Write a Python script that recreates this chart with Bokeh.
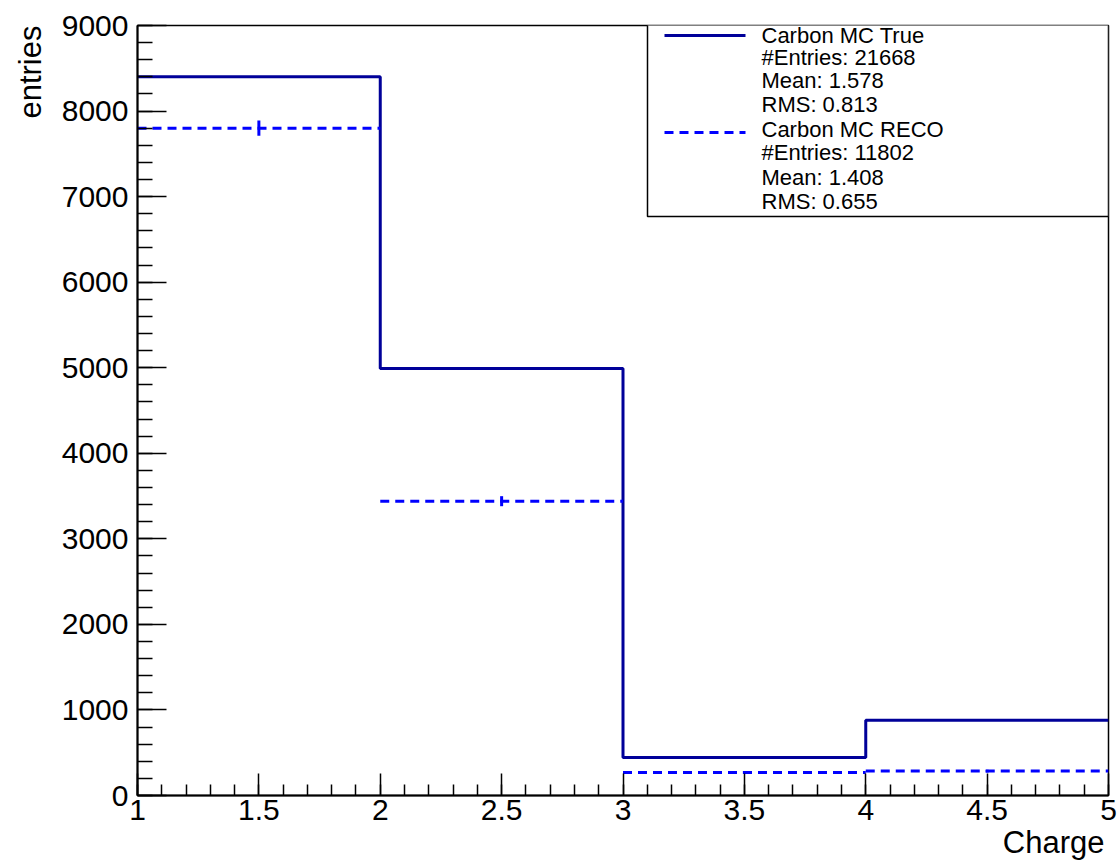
import math
from bokeh.plotting import figure
from bokeh.models import Range1d, FixedTicker, Title
from bokeh.core.properties import value
from bokeh.embed import file_html
from bokeh.resources import INLINE

# ---- data ----
bin_edges = [1, 2, 3, 4, 5]
true_counts = [8400, 4990, 444, 880]
reco_counts = [7800, 3440, 270, 285]

x_ticks = [1, 1.5, 2, 2.5, 3, 3.5, 4, 4.5, 5]
x_tick_labels = ["1", "1.5", "2", "2.5", "3", "3.5", "4", "4.5", "5"]
y_ticks = [0, 1000, 2000, 3000, 4000, 5000, 6000, 7000, 8000, 9000]
y_tick_labels = ["0", "1000", "2000", "3000", "4000", "5000", "6000", "7000", "8000", "9000"]

legend_true = ["Carbon MC True", "#Entries: 21668", "Mean: 1.578", "RMS: 0.813"]
legend_reco = ["Carbon MC RECO", "#Entries: 11802", "Mean: 1.408", "RMS: 0.655"]

TRUE_COLOR = "#000099"
RECO_COLOR = "#0000ff"
FONT = "Liberation Sans"

XMIN, XMAX, YMIN, YMAX = 1, 5, 0, 9000
# frame pixel geometry (picture coords)
FL, FR, FT, FB = 137, 1108, 25, 795


def dx(px):
    return XMIN + (px - FL) / (FR - FL) * (XMAX - XMIN)


def dy(py):
    return YMIN + (FB - py) / (FB - FT) * (YMAX - YMIN)


p = figure(frame_width=FR - FL, frame_height=FB - FT,
           output_backend="svg", toolbar_location=None,
           x_range=Range1d(XMIN, XMAX), y_range=Range1d(YMIN, YMAX),
           min_border_left=FL, min_border_right=9, min_border_top=FT,
           min_border_bottom=865 - FB)
p.background_fill_color = "white"
p.border_fill_color = "white"
p.outline_line_color = "black"
p.outline_line_width = 1.5
p.xgrid.visible = False
p.ygrid.visible = False

# axes
minor_x = [round(1 + 0.1 * i, 2) for i in range(41)]
minor_y = [200 * i for i in range(46)]
p.xaxis.ticker = FixedTicker(ticks=x_ticks, minor_ticks=minor_x)
p.yaxis.ticker = FixedTicker(ticks=y_ticks, minor_ticks=minor_y)
p.xaxis.major_label_overrides = {t: l for t, l in zip(x_ticks, x_tick_labels)}
p.yaxis.major_label_overrides = {t: l for t, l in zip(y_ticks, y_tick_labels)}
for ax in (p.xaxis[0], p.yaxis[0]):
    ax.axis_line_color = "black"
    ax.axis_line_width = 2
    ax.major_tick_line_color = "black"
    ax.minor_tick_line_color = "black"
    ax.major_tick_line_width = 1.5
    ax.minor_tick_line_width = 1.5
    ax.major_tick_out = 0
    ax.minor_tick_out = 0
    ax.major_label_text_font = FONT
    ax.major_label_text_font_size = "30px"
    ax.major_label_text_color = "black"
p.xaxis.major_tick_in = 22
p.xaxis.minor_tick_in = 11
p.yaxis.major_tick_in = 29
p.yaxis.minor_tick_in = 15
p.xaxis.major_label_standoff = 4
p.yaxis.major_label_standoff = 9

# axis titles (right / top aligned as in ROOT)
p.add_layout(Title(text="Charge", align="right", text_font=FONT,
                   text_font_size="31px", text_font_style="normal",
                   text_color="black", standoff=0, offset=4), "below")
p.add_layout(Title(text="entries", align="right", text_font=FONT,
                   text_font_size="31px", text_font_style="normal",
                   text_color="black", standoff=21), "left")

# true histogram (step outline)
step_y = true_counts + [true_counts[-1]]
p.step(x=bin_edges, y=step_y, mode="after", line_color=TRUE_COLOR, line_width=3)

# reco histogram: dashed horizontal bars per bin + vertical error bars
lefts = bin_edges[:-1]
rights = bin_edges[1:]
centers = [(a + b) / 2 for a, b in zip(lefts, rights)]
p.segment(x0=lefts, x1=rights, y0=reco_counts, y1=reco_counts,
          line_color=RECO_COLOR, line_width=3, line_dash="9 6")
errs = [math.sqrt(v) for v in reco_counts]
p.segment(x0=centers, x1=centers,
          y0=[v - e for v, e in zip(reco_counts, errs)],
          y1=[v + e for v, e in zip(reco_counts, errs)],
          line_color=RECO_COLOR, line_width=3)

# legend box
p.quad(left=[dx(647)], right=[dx(1108)], top=[dy(23)], bottom=[dy(216)],
       fill_color="white", line_color="black", line_width=1.5)
p.segment(x0=[dx(664)], x1=[dx(745)], y0=[dy(35)], y1=[dy(35)],
          line_color=TRUE_COLOR, line_width=3)
p.segment(x0=[dx(664)], x1=[dx(745)], y0=[dy(132)], y1=[dy(132)],
          line_color=RECO_COLOR, line_width=3, line_dash="9 6")
leg_lines = legend_true + legend_reco
leg_py = [35, 57, 80, 104, 129, 152, 177, 201]
p.text(x=[dx(761)] * len(leg_lines), y=[dy(v) for v in leg_py], text=leg_lines,
       text_font=value(FONT), text_font_size="22px", text_color="black",
       text_align="left", text_baseline="middle")

open("out.html", "w").write(file_html(p, INLINE))
